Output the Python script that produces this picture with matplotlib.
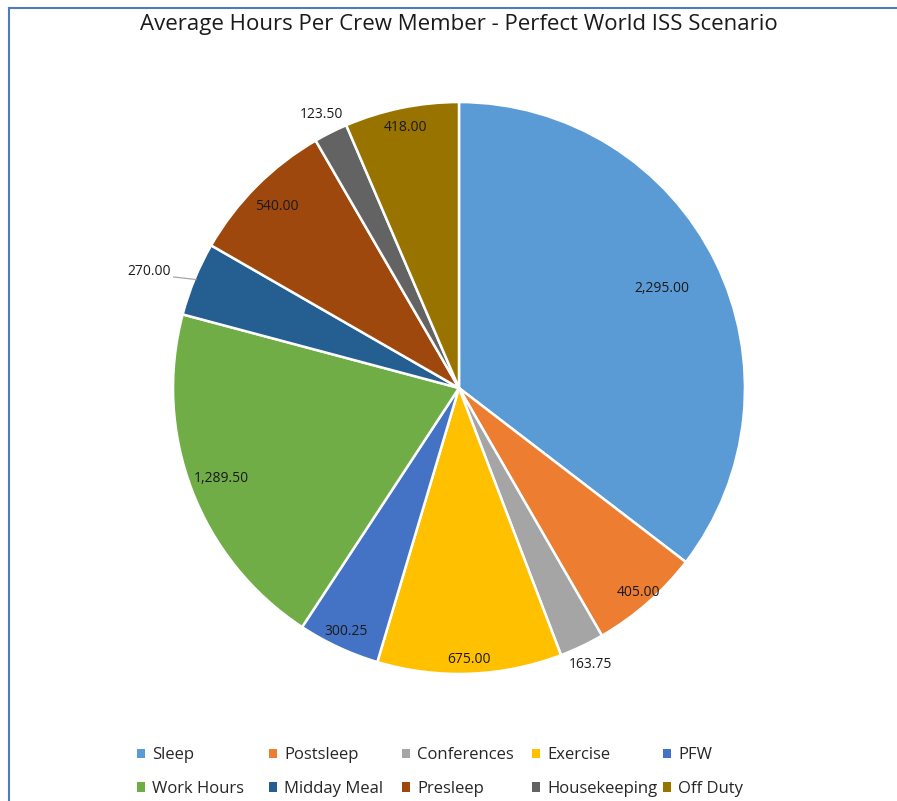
import numpy as np
import matplotlib
matplotlib.use("Agg")
import matplotlib.pyplot as plt
from matplotlib.lines import Line2D
from matplotlib.patches import Patch

plt.rcParams["font.family"] = ["Open Sans", "DejaVu Sans"]

categories = ["Sleep", "Postsleep", "Conferences", "Exercise", "PFW",
              "Work Hours", "Midday Meal", "Presleep", "Housekeeping", "Off Duty"]
hours = [2295.00, 405.00, 163.75, 675.00, 300.25, 1289.50, 270.00, 540.00, 123.50, 418.00]
colors = ["#5B9BD5", "#ED7D31", "#A5A5A5", "#FFC000", "#4472C4",
          "#70AD47", "#255E91", "#9E480E", "#636363", "#997300"]
# where Excel put each data label, as a fraction of the radius
label_dist = [0.79, 0.95, 1.07, 0.95, 0.94, 0.89, 1.08, 0.90, 1.07, 0.93]
leader = [False] * 6 + [True] + [False] * 3

fig = plt.figure(figsize=(8.97, 8.01), dpi=100)
ax = fig.add_axes([0.1929, 0.1586, 0.6376, 0.714])

wedges, _ = ax.pie(hours, colors=colors, startangle=90, counterclock=False,
                   wedgeprops=dict(edgecolor="white", linewidth=1.8))
ax.set_xlim(-1, 1)
ax.set_ylim(-1, 1)

for w, v, d, ld in zip(wedges, hours, label_dist, leader):
    ang = np.deg2rad((w.theta1 + w.theta2) / 2)
    c, s = np.cos(ang), np.sin(ang)
    if ld:
        # label sits left of the pie with a short grey leader line
        x0, y0 = d * c, s + 0.007
        ax.plot([x0, 0.995 * c], [y0, 0.995 * s], color="#a6a6a6", linewidth=0.9)
        ax.text(x0 - 0.01, y0 + 0.018, f"{v:,.2f}", ha="right", va="center",
                fontsize=10, color="#1a1a1a")
    else:
        ax.text(d * c, d * s, f"{v:,.2f}", ha="center", va="center",
                fontsize=10, color="#1a1a1a")

fig.suptitle("Average Hours Per Crew Member - Perfect World ISS Scenario",
             x=459 / 897, y=0.982, fontsize=16, color="#1a1a1a")

# legend: Excel gives every column the same width, so one small legend per column
col_x = [137, 269, 402, 532, 663]
for k, x in enumerate(col_x):
    idx = [k, k + 5]
    fig.legend([Patch(facecolor=colors[i], edgecolor="none") for i in idx],
               [categories[i] for i in idx], loc="center left",
               bbox_to_anchor=(x / 897, 1 - 772 / 801), frameon=False, fontsize=12,
               borderpad=0, borderaxespad=0, handlelength=0.5, handleheight=0.5,
               handletextpad=0.4, labelspacing=1.05, labelcolor="#262626")

# chart frame: only left and top edges are in view
fig.add_artist(Line2D([9 / 897, 9 / 897], [0, 1 - 8 / 801], color="#4a7ebb", linewidth=1.5))
fig.add_artist(Line2D([9 / 897, 1], [1 - 8 / 801, 1 - 8 / 801], color="#4a7ebb", linewidth=1.5))

fig.savefig("out.png", dpi=100)
